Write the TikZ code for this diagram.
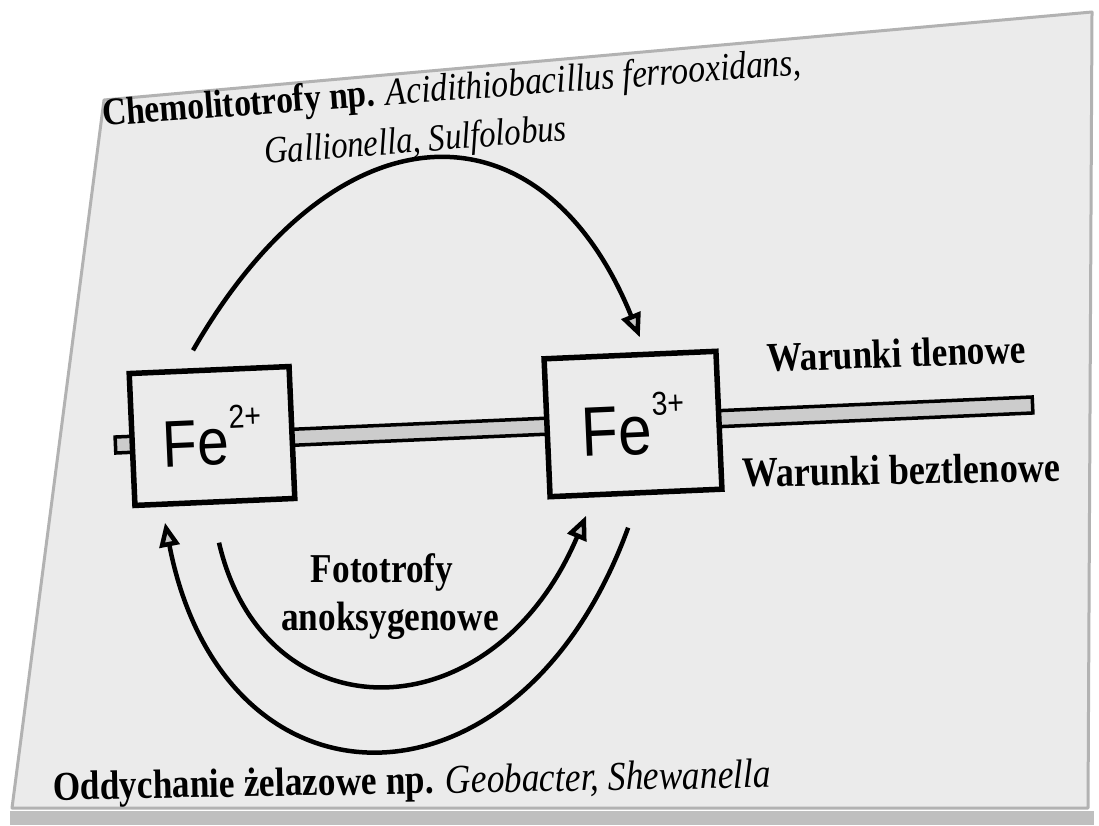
\documentclass[tikz,border=0pt]{standalone}
\usepackage{fontspec}
\setmainfont{Liberation Serif}
\newfontfamily\slidefont[FakeStretch=0.86]{Liberation Serif}
\newfontfamily\fefont[FakeStretch=0.86]{Liberation Sans}
\usetikzlibrary{arrows.meta, positioning, calc}

\newcommand\ionsup[1]{\raisebox{0.55em}{\fontsize{33}{33}\selectfont #1}}

\begin{document}
\begin{tikzpicture}[
  x=1pt, y=1pt, >=Stealth,
  slidebg/.style={draw=gray!60, fill=black!8, line width=3pt, line join=round},
  ionbox/.style={
    draw=black, fill=black!8, line width=5.5pt, rotate=2.5,
    minimum width=160pt, minimum height=132pt, inner sep=0pt,
    font=\fefont\fontsize{66}{70}\selectfont
  },
  barnode/.style={
    draw=black, fill=gray!40, line width=3.5pt, rotate=2.5,
    minimum width=918pt, minimum height=16pt, inner sep=0pt
  },
  slidetext/.style={font=\slidefont\fontsize{41}{48}\selectfont, inner sep=0pt, text=black},
  cyclearrow/.style={-{Triangle[length=24pt, width=20pt, fill=gray!45]}, line width=4.5pt},
]
\useasboundingbox (0,0) rectangle (1099,825);
% --- slide ---
\draw[slidebg] (104,725) -- (1092,813) -- (1088,17) -- (12,17) -- cycle;
\fill[gray!50] (10,0) rectangle (1094,14);
% --- oxic / anoxic bar ---
\node[barnode] (bar) at (574,400) {};
% --- iron species ---
\node[ionbox] (fe2) at (212,389) {Fe\kern1pt\ionsup{2+}};
\node[ionbox, minimum width=172pt, minimum height=138pt,
  font=\fefont\fontsize{70}{74}\selectfont] (fe3) at (633,401) {Fe\kern1pt\ionsup{3+}};
% --- arc end points ---
\coordinate (topA) at ($(fe2.north)+(-16,17)$);
\coordinate (topB) at ($(fe3.north)+(10,15)$);
\coordinate (inA) at ($(fe2.south)+(4,-38)$);
\coordinate (inB) at ($(fe3.south)+(-50,-20)$);
\coordinate (outA) at ($(fe3.south)+(-8,-32)$);
\coordinate (outB) at ($(fe2.south)+(-50,-18)$);
% --- oxidation / reduction arcs ---
\draw[cyclearrow] (topA) .. controls +(145,252) and +(-97,239) .. (topB);
\draw[cyclearrow] (inA) .. controls +(45,-194) and +(-94,-221) .. (inB);
\draw[cyclearrow] (outA) .. controls +(-108,-297) and +(59,-302) .. (outB);
% --- labels ---
\node[slidetext, anchor=base west, rotate=4.2, font=\slidefont\fontsize{39}{44}\selectfont] (chemo) at (103,699)
  {\bfseries Chemolitotrofy np. \mdseries\itshape Acidithiobacillus ferrooxidans,};
\node[slidetext, anchor=base west, rotate=4.5, font=\slidefont\fontsize{38}{44}\selectfont] (galli) at (265,661)
  {\itshape Gallionella, Sulfolobus};
\node[slidetext, anchor=base west, rotate=2] (tlen) at (767,453) {\bfseries Warunki tlenowe};
\node[slidetext, anchor=base west, rotate=1, font=\slidefont\fontsize{42}{48}\selectfont] (beztlen) at (742,338)
  {\bfseries Warunki beztlenowe};
\node[slidetext, anchor=base] (foto) at (382,243) {\bfseries Fototrofy};
\node[slidetext, anchor=base] (anoksy) at (390,195) {\bfseries anoksygenowe};
\node[slidetext, anchor=base west, rotate=1] (oddy) at (53,25)
  {\bfseries Oddychanie żelazowe np. \mdseries\itshape Geobacter, Shewanella};
\end{tikzpicture}
\end{document}
